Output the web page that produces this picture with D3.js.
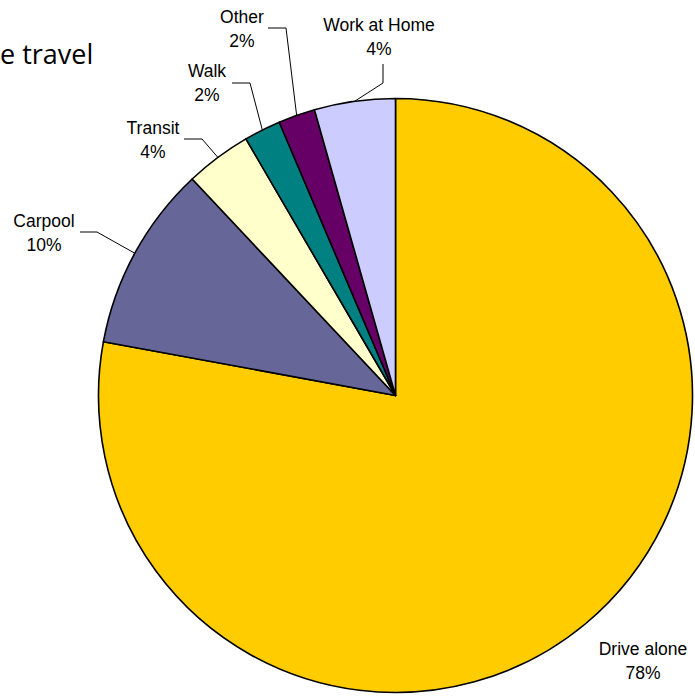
<!DOCTYPE html>
<html>
<head>
<meta charset="utf-8">
<script src="https://cdn.jsdelivr.net/npm/d3@7"></script>
<style>
  body { margin: 0; background: #fff; }
  svg { display: block; }
  .lbl { font-family: "Liberation Sans", Arial, sans-serif; font-size: 17.5px; fill: #000; }
  .title { font-family: "Open Sans", "Noto Sans", sans-serif; font-size: 27px; fill: #000; }
</style>
</head>
<body>
<div id="mainDiv"></div>
<script>
'use strict';

// modes, clockwise from 12 o'clock
var modes = ['Drive alone', 'Carpool', 'Transit', 'Walk', 'Other', 'Work at Home'];
var shares = [77.9, 10.1, 3.6, 2.0, 2.0, 4.4];
var colors = ['#FFCC00', '#666699', '#FFFFCC', '#008080', '#660066', '#CCCCFF'];
var titleText = 'e travel'; // only the tail of the title shows in the original

var chart = {};
chart.w = 695;
chart.h = 696;
chart.cx = 395.5;
chart.cy = 395.5;
chart.r = 297;

// label layout: text centre + baseline of first line, and the leader elbow/end
chart.labelPos = [
    {x: 643, y: 655, elbow: null, end: null},
    {x: 44, y: 227, elbow: [97, 232], end: [80, 232]},
    {x: 153, y: 134, elbow: [202, 139], end: [184, 139]},
    {x: 207, y: 77, elbow: [250, 83], end: [232, 83]},
    {x: 242, y: 23, elbow: [286, 28], end: [268, 28]},
    {x: 379, y: 31, elbow: [383, 83], end: [383, 64]}
];

chart.svg = d3.select('#mainDiv').append('svg')
    .attr('width', chart.w)
    .attr('height', chart.h);

chart.svg.append('text')
    .attr('class', 'title')
    .attr('x', 0)
    .attr('y', 64)
    .text(titleText);

var data = modes.map(function(m, i) { return {mode: m, value: shares[i], color: colors[i], i: i}; });
var total = d3.sum(shares);
var pct = d3.format('.0%');

var pie = d3.pie()
    .value(function(d) { return d.value; })
    .sort(null);

var arc = d3.arc().innerRadius(0).outerRadius(chart.r);
var rim = d3.arc().innerRadius(chart.r).outerRadius(chart.r);

var g = chart.svg.append('g')
    .attr('transform', 'translate(' + chart.cx + ',' + chart.cy + ')');

var arcs = pie(data);

g.selectAll('path.slice')
    .data(arcs)
    .enter()
    .append('path')
    .attr('class', 'slice')
    .attr('d', arc)
    .style('fill', function(d) { return d.data.color; })
    .style('stroke', '#000')
    .style('stroke-width', 1.6)
    .style('stroke-linejoin', 'round');

// leader lines
chart.svg.selectAll('polyline.leader')
    .data(arcs.filter(function(d) { return chart.labelPos[d.data.i].elbow; }))
    .enter()
    .append('polyline')
    .attr('class', 'leader')
    .attr('points', function(d) {
        var c = rim.centroid(d);
        var p = chart.labelPos[d.data.i];
        return [[c[0] + chart.cx, c[1] + chart.cy], p.elbow, p.end].map(function(q) { return q.join(','); }).join(' ');
    })
    .style('fill', 'none')
    .style('stroke', '#000')
    .style('stroke-width', 1);

var labels = chart.svg.selectAll('text.lbl')
    .data(arcs)
    .enter()
    .append('text')
    .attr('class', 'lbl')
    .attr('text-anchor', 'middle');

labels.append('tspan')
    .attr('x', function(d) { return chart.labelPos[d.data.i].x; })
    .attr('y', function(d) { return chart.labelPos[d.data.i].y; })
    .text(function(d) { return d.data.mode; });

labels.append('tspan')
    .attr('x', function(d) { return chart.labelPos[d.data.i].x; })
    .attr('y', function(d) { return chart.labelPos[d.data.i].y + 24; })
    .text(function(d) { return pct(d.data.value / total); });
</script>
</body>
</html>
